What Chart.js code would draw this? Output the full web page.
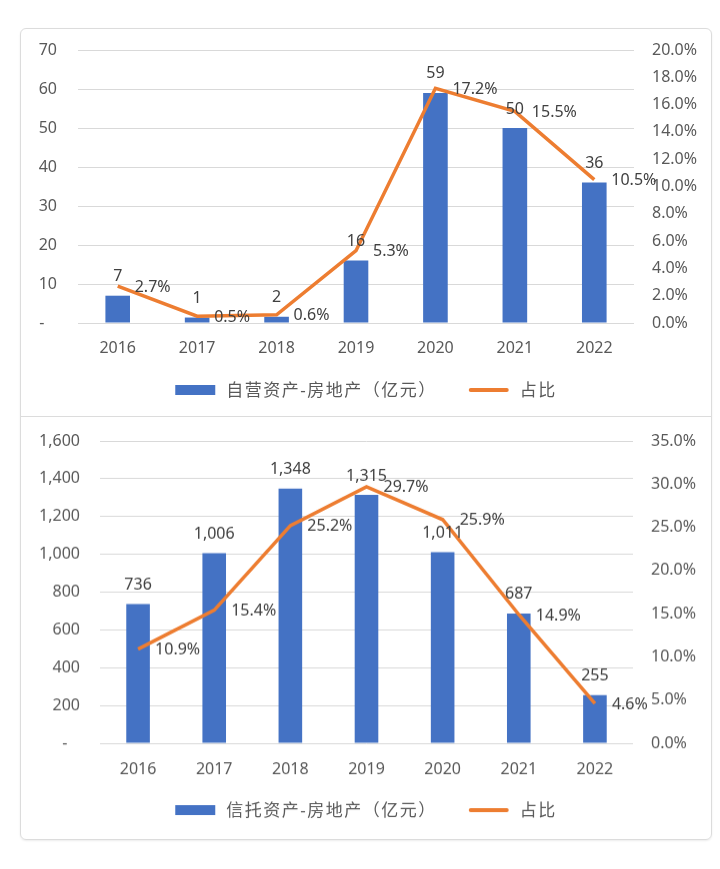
<!DOCTYPE html>
<html>
<head>
<meta charset="utf-8">
<script src="https://cdn.jsdelivr.net/npm/chart.js@4.4.1/dist/chart.umd.min.js"></script>
<style>
  body { margin: 0; background: #fff; }
  #caja {
    position: absolute; left: 20px; top: 28px; width: 690px; height: 810px;
    border: 1px solid #dcdcdc; border-radius: 6px;
    box-shadow: 0 1px 2px rgba(0,0,0,0.08);
  }
  #arriba { position: absolute; left: 0; top: 0; }
  #abajo { position: absolute; left: 0; top: 387px; border-top: 1px solid #dcdcdc; }
</style>
</head>
<body>
<div id="caja">
  <canvas id="arriba" width="690" height="386"></canvas>
  <canvas id="abajo" width="690" height="423"></canvas>
</div>
<script>
// DATOS
const anios = ['2016', '2017', '2018', '2019', '2020', '2021', '2022'];
const autoInversion = [7, 1.4, 1.6, 16, 59, 50, 36];        // 自营资产-房地产（亿元）
const autoPorcentaje = [2.7, 0.5, 0.6, 5.3, 17.2, 15.5, 10.5];
const fideicomiso = [736, 1006, 1348, 1315, 1011, 687, 255]; // 信托资产-房地产（亿元）
const fideiPorcentaje = [10.9, 15.4, 25.2, 29.7, 25.9, 14.9, 4.6];
const ticksIzqArriba = [0, 70, 10];
const ticksDerArriba = [0, 20, 2];
const ticksIzqAbajo = [0, 1600, 200];
const ticksDerAbajo = [0, 35, 5];
// ----------------

const AZUL = '#4472C4';
const NARANJA = '#ED7D31';
const GRIS_TICK = '#595959';
const GRIS_LABEL = '#404040';
const FUENTE = "'Noto Sans', 'Noto Sans CJK SC', sans-serif";

const formatoMiles = v => Math.round(v).toLocaleString('en-US');

// etiquetas de datos + leyenda dibujada a mano
const etiquetasPlugin = {
    id: 'etiquetas',
    afterDatasetsDraw(chart, args, opts) {
        const ctx = chart.ctx;
        ctx.save();
        ctx.font = '16px ' + FUENTE;
        ctx.fillStyle = GRIS_LABEL;
        chart.data.datasets.forEach((ds, i) => {
            const meta = chart.getDatasetMeta(i);
            meta.data.forEach((el, j) => {
                if (ds.type === 'bar') {
                    ctx.textAlign = 'center';
                    ctx.textBaseline = 'middle';
                    ctx.fillText(formatoMiles(ds.data[j]), el.x, el.y - opts.sobreBarra);
                } else {
                    ctx.textAlign = 'left';
                    ctx.textBaseline = 'middle';
                    ctx.fillText(ds.data[j].toFixed(1) + '%', el.x + 17, el.y + 1);
                }
            });
        });
        ctx.restore();
    },
    afterDraw(chart, args, opts) {
        const ctx = chart.ctx;
        const items = [chart.data.datasets[1], chart.data.datasets[0]];
        ctx.save();
        ctx.font = '17px ' + FUENTE;
        ctx.letterSpacing = '1.5px';
        const anchoMuestra = 40, gapTexto = 11, gapItem = 32;
        let total = 0;
        items.forEach((ds, k) => {
            total += anchoMuestra + gapTexto + ctx.measureText(ds.label).width;
            if (k < items.length - 1) total += gapItem;
        });
        let x = chart.width / 2 - total / 2;
        const y = opts.leyendaY;
        items.forEach(ds => {
            if (ds.type === 'bar') {
                ctx.fillStyle = ds.backgroundColor;
                ctx.fillRect(x, y - 5, anchoMuestra, 10);
            } else {
                ctx.strokeStyle = ds.borderColor;
                ctx.lineWidth = 4;
                ctx.lineCap = 'round';
                ctx.beginPath();
                ctx.moveTo(x + 2, y);
                ctx.lineTo(x + anchoMuestra - 2, y);
                ctx.stroke();
            }
            x += anchoMuestra + gapTexto;
            ctx.fillStyle = GRIS_TICK;
            ctx.textAlign = 'left';
            ctx.textBaseline = 'middle';
            ctx.fillText(ds.label, x, y + 1);
            x += ctx.measureText(ds.label).width + gapItem;
        });
        ctx.restore();
    }
};

const crearGrafico = (canvasId, barras, porcentajes, etiquetaBarra, ejeIzq, ejeDer, medidas) => {
    const config = {
        data: {
            labels: anios,
            datasets: [
                {
                    type: 'line',
                    label: '占比',
                    data: porcentajes,
                    yAxisID: 'y1',
                    borderColor: NARANJA,
                    backgroundColor: NARANJA,
                    borderWidth: 3.5,
                    pointRadius: 0,
                    tension: 0,
                    order: 0
                },
                {
                    type: 'bar',
                    label: etiquetaBarra,
                    data: barras,
                    yAxisID: 'y',
                    backgroundColor: AZUL,
                    borderWidth: 0,
                    barPercentage: 0.31,
                    categoryPercentage: 1,
                    order: 1
                }
            ]
        },
        options: {
            responsive: false,
            animation: false,
            layout: { padding: { top: medidas.arriba, bottom: medidas.abajo, left: 0, right: 0 } },
            plugins: {
                legend: { display: false },
                tooltip: { enabled: false },
                etiquetas: { sobreBarra: 19, leyendaY: medidas.leyendaY }
            },
            scales: {
                x: {
                    grid: { display: false },
                    border: { display: false },
                    ticks: { color: GRIS_TICK, font: { size: 16, family: FUENTE }, padding: medidas.xPad },
                    afterFit: s => { s.height = 40; }
                },
                y: {
                    position: 'left',
                    min: ejeIzq[0], max: ejeIzq[1],
                    grid: { color: '#d9d9d9', lineWidth: 1, drawTicks: false },
                    border: { display: false },
                    ticks: {
                        stepSize: ejeIzq[2],
                        color: GRIS_TICK,
                        font: { size: 16, family: FUENTE },
                        padding: medidas.izqPad,
                        callback: v => v === 0 ? '-   ' : formatoMiles(v)
                    },
                    afterFit: s => { s.width = medidas.izqAncho; s.paddingTop = 0; s.paddingBottom = 0; }
                },
                y1: {
                    position: 'right',
                    min: ejeDer[0], max: ejeDer[1],
                    grid: { drawOnChartArea: false, drawTicks: false },
                    border: { display: false },
                    ticks: {
                        stepSize: ejeDer[2],
                        color: GRIS_TICK,
                        font: { size: 16, family: FUENTE },
                        padding: 18,
                        callback: v => v.toFixed(1) + '%'
                    },
                    afterFit: s => { s.width = medidas.derAncho; s.paddingTop = 0; s.paddingBottom = 0; }
                }
            }
        },
        plugins: [etiquetasPlugin]
    };
    return new Chart(document.getElementById(canvasId), config);
};

const chartArriba = crearGrafico('arriba', autoInversion, autoPorcentaje, '自营资产-房地产（亿元）',
    ticksIzqArriba, ticksDerArriba,
    { arriba: 21, abajo: 52, leyendaY: 361, xPad: 8, izqAncho: 57, izqPad: 21, derAncho: 77 });

const chartAbajo = crearGrafico('abajo', fideicomiso, fideiPorcentaje, '信托资产-房地产（亿元）',
    ticksIzqAbajo, ticksDerAbajo,
    { arriba: 24, abajo: 56, leyendaY: 394, xPad: 9, izqAncho: 79, izqPad: 20, derAncho: 78 });
</script>
</body>
</html>
